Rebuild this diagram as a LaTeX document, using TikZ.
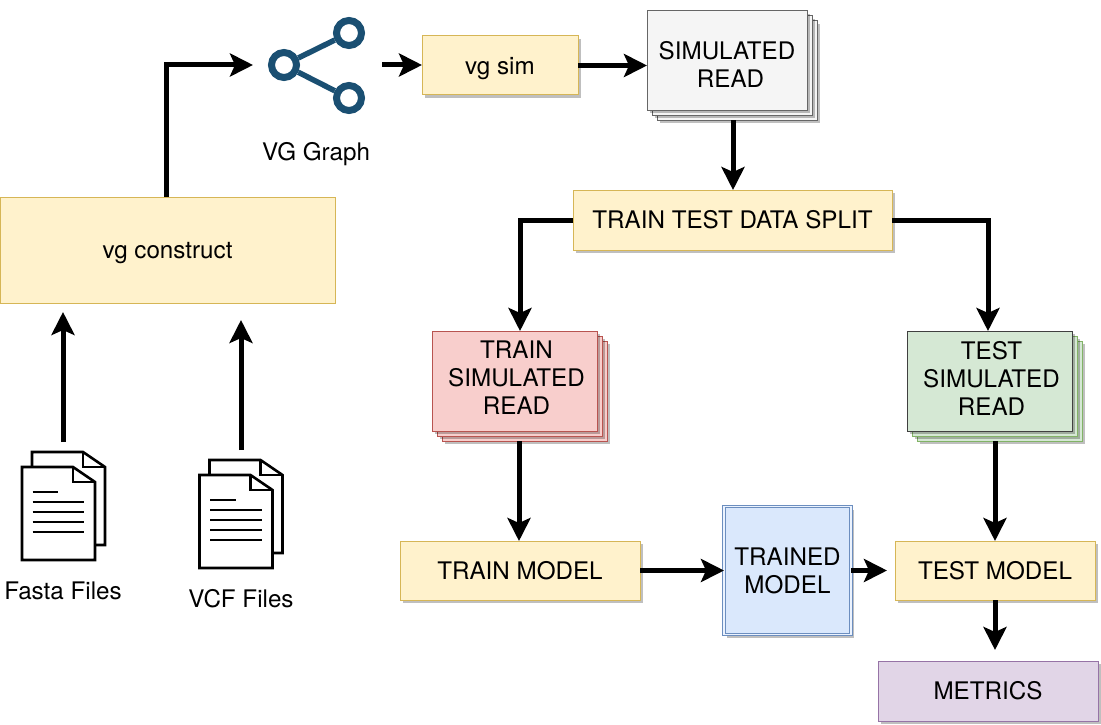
\documentclass[tikz,border=0pt]{standalone}
\usepackage{fontspec}
\setmainfont{TeX Gyre Heros}
\usepackage{xcolor}
\usetikzlibrary{positioning, calc, arrows.meta, shadows}

\definecolor{yellowfill}{HTML}{FFF2CC}
\definecolor{yellowline}{HTML}{D6B656}
\definecolor{greyfill}{HTML}{F5F5F5}
\definecolor{greyline}{HTML}{666666}
\definecolor{redfill}{HTML}{F8CECC}
\definecolor{redline}{HTML}{B85450}
\definecolor{greenfill}{HTML}{D5E8D4}
\definecolor{greenline}{HTML}{82B366}
\definecolor{bluefill}{HTML}{DAE8FC}
\definecolor{blueline}{HTML}{6C8EBF}
\definecolor{purplefill}{HTML}{E1D5E7}
\definecolor{purpleline}{HTML}{9673A6}
\definecolor{iconblue}{HTML}{1A4F72}

\tikzset{
  flow/.style={-{Stealth[length=23pt,width=23pt,inset=5pt]},line width=5pt},
  label/.style={font=\fontsize{24.2}{28}\selectfont,align=center,inner sep=0pt,outer sep=0pt},
  softshadow/.style={general shadow={shadow xshift=#1,shadow yshift=-#1,fill=black,opacity=.25}},
  box/.style={label,draw=yellowline,fill=yellowfill,line width=1pt},
  stackbox/.style 2 args={label,line width=1pt,draw=#2,fill=#1,
    softshadow=13pt,
    general shadow={shadow xshift=10pt,shadow yshift=-10pt,fill=#1,draw=#2},
    softshadow=8pt,
    general shadow={shadow xshift=5pt,shadow yshift=-5pt,fill=#1,draw=#2},
    softshadow=3pt},
  docstack/.pic={
    \draw[line width=2.6pt,fill=white] (10,-15)--(61,-15)--(83,0)--(83,78)--(10,78)--cycle;
    \draw[line width=2.6pt] (61,-15)--(61,0)--(83,0);
    \draw[line width=2.6pt,fill=white] (0,0)--(51,0)--(73,15)--(73,93)--(0,93)--cycle;
    \draw[line width=2.6pt] (51,0)--(51,15)--(73,15);
    \draw[line width=2.6pt] (10.5,25)--(36,25);
    \foreach \y in {35,45,55,65} \draw[line width=2.6pt] (10.5,\y)--(62,\y);
  }
}

\begin{document}
\begin{tikzpicture}[x=1pt,y=-1pt]
      \useasboundingbox (0,0) rectangle (1101,725);
      % boxes
      \node[box,text depth=0pt,minimum width=335pt,minimum height=106pt] (construct) at (167.5,250) {vg construct};
      \node[box,softshadow=3pt,text depth=0pt,minimum width=156pt,minimum height=59pt] (vgsim) at (500,65.5) {vg sim};
      \node[stackbox={greyfill}{greyline},minimum width=160pt,minimum height=99pt] (simread) at (727,60.5) {\rule{0pt}{26pt}SIMULATED\\\hspace*{7pt}READ};
      \node[box,softshadow=3pt,minimum width=319pt,minimum height=60pt] (split) at (732.5,220) {TRAIN TEST DATA SPLIT};
      \node[stackbox={redfill}{redline},minimum width=165pt,minimum height=100pt] (trainread) at (514.5,381) {\hspace*{4pt}TRAIN\\\hspace*{4pt}SIMULATED\\\hspace*{4pt}READ\rule[-6pt]{0pt}{6pt}};
      \node[stackbox={greenfill}{greenline},draw=black!75,minimum width=165pt,minimum height=100pt] (testread) at (989.5,381) {\hspace*{4pt}TEST\\\hspace*{4pt}SIMULATED\\\hspace*{4pt}READ\rule[-6pt]{0pt}{6pt}};
      \node[box,softshadow=3pt,minimum width=240pt,minimum height=59pt] (trainmodel) at (520,570.5) {TRAIN MODEL};
      \node[label,draw=blueline,double=bluefill!50!white,double distance=1.6pt,line width=.9pt,fill=bluefill,softshadow=3pt,minimum width=127pt,minimum height=128pt] (trained) at (787.5,570.5) {TRAINED\\MODEL};
      \node[box,softshadow=3pt,minimum width=200pt,minimum height=59pt] (testmodel) at (995,570.5) {TEST MODEL};
      \node[label,draw=purpleline,fill=purplefill,line width=1pt,softshadow=3pt,minimum width=220pt,minimum height=60pt] (metrics) at (988,691) {METRICS};
      % graph icon
      \coordinate (graphin) at (253,65);
      \coordinate (graphout) at (382,65);
      \node[circle,draw=iconblue,line width=7pt,minimum size=25pt,inner sep=0pt] (hub) at (284,65) {};
      \node[circle,draw=iconblue,line width=7pt,minimum size=25pt,inner sep=0pt] (leafa) at (349,33) {};
      \node[circle,draw=iconblue,line width=7pt,minimum size=25pt,inner sep=0pt] (leafb) at (349,98) {};
      \draw[iconblue,line width=5.5pt] (hub)--(leafa);
      \draw[iconblue,line width=5.5pt] (hub)--(leafb);
      \node[label,text depth=0pt] (graphname) at (316,151) {VG Graph};
      % file icons
      \pic at (22,467) {docstack};
      \pic at (199.5,475) {docstack};
      \node[label] (fastaname) at (63,591) {Fasta Files};
      \node[label] (vcfname) at (241,599) {VCF Files};
      \coordinate (fastaout) at (63,442);
      \coordinate (vcfout) at (241,450);
      \coordinate (fastain) at (63,312);
      \coordinate (vcfin) at (241,320);
      \coordinate (simout) at (733,120);
      \coordinate (trainout) at (519,441);
      \coordinate (testout) at (995,441);
      \coordinate (metricsin) at (995,650);
      % connectors
      \draw[flow] (fastaout)--(fastain);
      \draw[flow] (vcfout)--(vcfin);
      \draw[flow] ([xshift=-1.5pt]construct.north) |- (graphin);
      \draw[flow] (graphout)--(graphout -| vgsim.west);
      \draw[flow] (vgsim.east)--(vgsim.east -| simread.west);
      \draw[flow] (simout)--(simout |- split.north);
      \draw[flow] (split.west)-|([xshift=5.5pt]trainread.north);
      \draw[flow] (split.east)-|([xshift=-1.5pt]testread.north);
      \draw[flow] (trainout)--(trainout |- trainmodel.north);
      \draw[flow] (testout)--(testout |- testmodel.north);
      \draw[flow] (trainmodel.east)--(trained.west);
      \draw[flow] (trained.east)--([xshift=-8pt]testmodel.west);
      \draw[flow] (testmodel.south)--(metricsin);
    \end{tikzpicture}
\end{document}
